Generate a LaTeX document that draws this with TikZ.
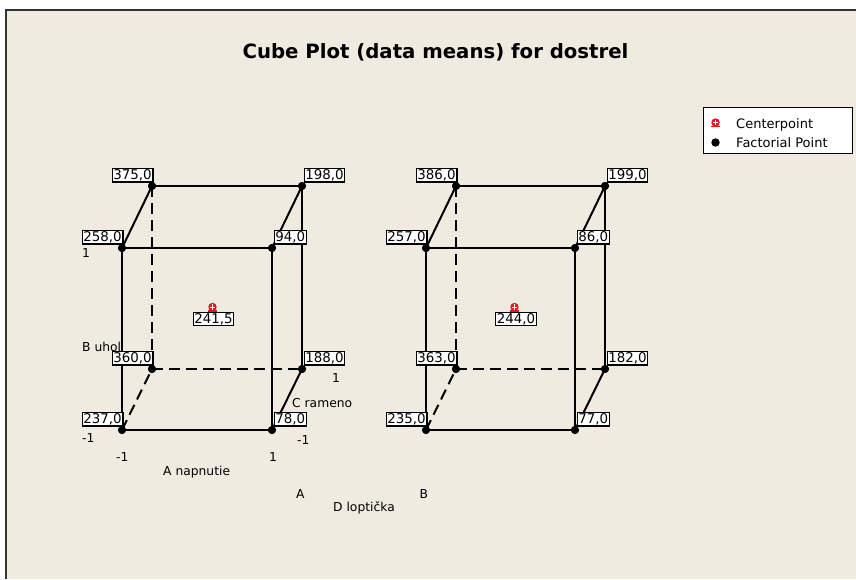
\documentclass[tikz,border=0pt]{standalone}
\usepackage{fontspec}
\setmainfont{DejaVu Sans}
\definecolor{bg}{HTML}{EFEBE1}
\definecolor{framecol}{HTML}{333333}
\definecolor{cp}{HTML}{E8141E}
\tikzset{
  cpmark/.pic={
    \fill[cp] (0,0) circle (4.2pt);
    \draw[white, line width=0.7pt] (-2.6,0)--(2.6,0) (0,-2.6)--(0,2.6);
    \draw[cp, line width=1.5pt] (-4.8,4)--(4.8,4);
  }
}
\begin{document}
\begin{tikzpicture}[x=1pt,y=-1pt,
  val/.style={draw=black, fill=white, line width=1.2pt, inner xsep=1.2pt, inner ysep=0.8pt,
              text height=10pt, text depth=1.6pt, font=\fontsize{13.4}{13.4}\selectfont},
  valL/.style={val, anchor=south east},
  valR/.style={val, anchor=south west},
  valC/.style={val, anchor=north},
  cubeedge/.style={line width=2pt, black},
  hid/.style={cubeedge, dash pattern=on 11pt off 6pt},
  fpt/.style={circle, fill=black, inner sep=0pt, minimum size=8pt},
  lab/.style={font=\fontsize{12.3}{12.3}\selectfont, anchor=base west, inner sep=0pt},
  legtext/.style={font=\fontsize{13}{13}\selectfont, anchor=base west, inner sep=0pt}
]
\useasboundingbox (0,0) rectangle (856,579);
\fill[bg] (6,10) rectangle (856,579);
\draw[framecol, line width=2pt] (6,579) -- (6,10) -- (856,10);

% title
\node[font=\fontsize{19.7}{20}\selectfont\bfseries, anchor=base, inner sep=0pt] (title) at (435.5,58) {Cube Plot (data means) for dostrel};

% ---------- left cube ----------
\node[fpt] (a1) at (122,430) {};
\node[fpt] (a2) at (272,430) {};
\node[fpt] (a3) at (122,248) {};
\node[fpt] (a4) at (272,248) {};
\node[fpt] (a5) at (152,369) {};
\node[fpt] (a6) at (302,369) {};
\node[fpt] (a7) at (152,186) {};
\node[fpt] (a8) at (302,186) {};
\draw[cubeedge] (a1.center) -- (a2.center) -- (a4.center) -- (a3.center) -- cycle;
\draw[cubeedge] (a7.center) -- (a8.center) -- (a6.center);
\draw[cubeedge] (a3.center) -- (a7.center);
\draw[cubeedge] (a4.center) -- (a8.center);
\draw[cubeedge] (a2.center) -- (a6.center);
\draw[hid] (a7.center) -- (a5.center);
\draw[hid] (a5.center) -- (a6.center);
\draw[hid] (a1.center) -- (a5.center);
\foreach \n in {a1,a2,a3,a4,a5,a6,a7,a8} \fill[black] (\n) circle (4pt);
\pic at (212.5,307) {cpmark};
\node[valC] (ac) at (213.5,312) {241,5};
\node[valL] (va1) at ([xshift=1.5pt,yshift=3.5pt]a1.center) {237,0};
\node[valR] (va2) at ([xshift=1.5pt,yshift=3.5pt]a2.center) {78,0};
\node[valL] (va3) at ([xshift=1.5pt,yshift=3.5pt]a3.center) {258,0};
\node[valR] (va4) at ([xshift=1.5pt,yshift=3.5pt]a4.center) {94,0};
\node[valL] (va5) at ([xshift=1.5pt,yshift=3.5pt]a5.center) {360,0};
\node[valR] (va6) at ([xshift=1.5pt,yshift=3.5pt]a6.center) {188,0};
\node[valL] (va7) at ([xshift=1.5pt,yshift=3.5pt]a7.center) {375,0};
\node[valR] (va8) at ([xshift=1.5pt,yshift=3.5pt]a8.center) {198,0};

% ---------- right cube ----------
\node[fpt] (b1) at (426,430) {};
\node[fpt] (b2) at (575,430) {};
\node[fpt] (b3) at (426,248) {};
\node[fpt] (b4) at (575,248) {};
\node[fpt] (b5) at (456,369) {};
\node[fpt] (b6) at (605,369) {};
\node[fpt] (b7) at (456,186) {};
\node[fpt] (b8) at (605,186) {};
\draw[cubeedge] (b1.center) -- (b2.center) -- (b4.center) -- (b3.center) -- cycle;
\draw[cubeedge] (b7.center) -- (b8.center) -- (b6.center);
\draw[cubeedge] (b3.center) -- (b7.center);
\draw[cubeedge] (b4.center) -- (b8.center);
\draw[cubeedge] (b2.center) -- (b6.center);
\draw[hid] (b7.center) -- (b5.center);
\draw[hid] (b5.center) -- (b6.center);
\draw[hid] (b1.center) -- (b5.center);
\foreach \n in {b1,b2,b3,b4,b5,b6,b7,b8} \fill[black] (\n) circle (4pt);
\pic at (514.5,307) {cpmark};
\node[valC] (bc) at (516,312) {244,0};
\node[valL] (vb1) at ([xshift=1.5pt,yshift=3.5pt]b1.center) {235,0};
\node[valR] (vb2) at ([xshift=1.5pt,yshift=3.5pt]b2.center) {77,0};
\node[valL] (vb3) at ([xshift=1.5pt,yshift=3.5pt]b3.center) {257,0};
\node[valR] (vb4) at ([xshift=1.5pt,yshift=3.5pt]b4.center) {86,0};
\node[valL] (vb5) at ([xshift=1.5pt,yshift=3.5pt]b5.center) {363,0};
\node[valR] (vb6) at ([xshift=1.5pt,yshift=3.5pt]b6.center) {182,0};
\node[valL] (vb7) at ([xshift=1.5pt,yshift=3.5pt]b7.center) {386,0};
\node[valR] (vb8) at ([xshift=1.5pt,yshift=3.5pt]b8.center) {199,0};

% axis labels left cube
\node[lab] (t1) at (82,257) {1};
\node[lab] (tm1) at (82,442) {-1};
\node[lab] (buhol) at (82,351.5) {B uhol};
\node[lab] (crameno) at (292,407) {C rameno};
\node[lab] (c1) at (332,382.5) {1};
\node[lab] (cm1) at (297,444) {-1};
\node[lab] (am1) at (116,461) {-1};
\node[lab] (a1t) at (269,461) {1};
\node[lab] (anap) at (163,475) {A napnutie};

% D factor labels
\node[lab] (dA) at (296,498) {A};
\node[lab] (dB) at (419.5,498) {B};
\node[lab] (dlop) at (333,511.5) {D loptička};

% legend
\node[draw=black, fill=white, line width=1pt, minimum width=149pt, minimum height=46pt,
      anchor=north west, inner sep=0pt] (leg) at (703,107) {};
\pic at (715.5,122.5) {cpmark};
\fill[black] (715.5,142.5) circle (4.2pt);
\node[legtext] (legC) at (736,128) {Centerpoint};
\node[legtext] (legF) at (736,147.5) {Factorial Point};
\end{tikzpicture}
\end{document}
